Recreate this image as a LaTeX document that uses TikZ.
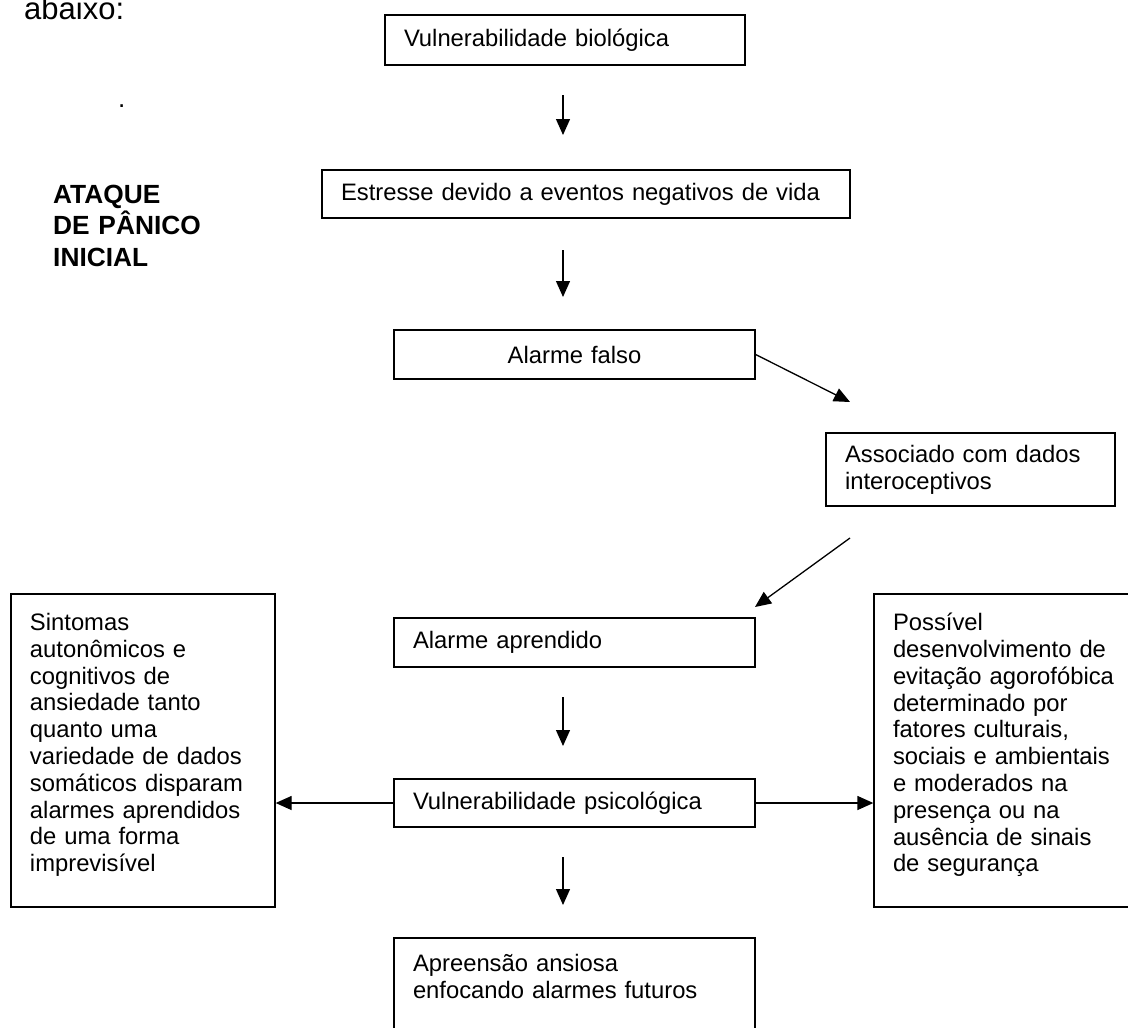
\documentclass[tikz,border=0pt]{standalone}
\usepackage{fontspec}
\setmainfont{Liberation Sans}
\usetikzlibrary{arrows.meta,calc}
\begin{document}
\begin{tikzpicture}[x=1pt,y=-1pt,
  box/.style={draw=black, line width=1.3pt, rectangle, inner xsep=19pt, inner ysep=0pt,
    font=\fontsize{23.8}{26.8}\selectfont, align=left},
  arr/.style={line width=1.3pt, -{Triangle[length=16pt,width=14pt]}},
  plain/.style={inner sep=0pt, font=\fontsize{23.8}{26.8}\selectfont}
]
\useasboundingbox (0,0) rectangle (1128,1028);

% free text
\node[plain, anchor=base west, font=\fontsize{31}{36}\selectfont] (abaixo) at (24,19) {abaixo:};
\node[plain, anchor=base west, font=\fontsize{26}{30}\selectfont] (ponto) at (118,107) {.};
\node[plain, anchor=base west, text width=200pt, align=left,
  font=\bfseries\fontsize{26.3}{31.5}\selectfont] (ataque) at (53,203) {ATAQUE\\DE PÂNICO\\INICIAL};

% boxes
\node[box, minimum width=360pt, minimum height=50pt, text width=322pt] (b1) at (565,40) {Vulnerabilidade biológica};
\node[box, minimum width=528pt, minimum height=48pt, text width=490pt] (b2) at (586,194) {Estresse devido a eventos negativos de vida};
\node[box, minimum width=361pt, minimum height=49pt, text width=323pt, align=center] (b3) at (574.5,354.5) {Alarme falso};
\node[box, minimum width=289pt, minimum height=73pt, text width=251pt] (b4) at (970.5,469.5) {Associado com dados\\interoceptivos};
\node[box, minimum width=361pt, minimum height=49pt, text width=323pt] (b5) at (574.5,642.5) {Alarme aprendido};
\node[box, minimum width=361pt, minimum height=48pt, text width=323pt] (b6) at (574.5,803) {Vulnerabilidade psicológica};
\node[box, minimum width=361pt, minimum height=131pt, text width=323pt] (b7) at (574.5,1003.5) {Apreensão ansiosa\\enfocando alarmes futuros\\\mbox{}\\\mbox{}};
\node[box, minimum width=264pt, minimum height=313pt, text width=226pt] (bl) at (143,750.5) {Sintomas\\autonômicos e\\cognitivos de\\ansiedade tanto\\quanto uma\\variedade de dados\\somáticos disparam\\alarmes aprendidos\\de uma forma\\imprevisível\rule[-16pt]{0pt}{16pt}};
\node[box, minimum width=270pt, minimum height=313pt, text width=232pt] (br) at (1009,750.5) {Possível\\desenvolvimento de\\evitação agorofóbica\\determinado por\\fatores culturais,\\sociais e ambientais\\e moderados na\\presença ou na\\ausência de sinais\\de segurança\rule[-16pt]{0pt}{16pt}};

% connector ends
\coordinate (p1) at (563,95);  \coordinate (q1) at (563,135);
\coordinate (p2) at (563,250); \coordinate (q2) at (563,297);
\coordinate (q3) at (850,402);
\coordinate (p4) at (850,538); \coordinate (q4) at (755,607);
\coordinate (p5) at (563,697); \coordinate (q5) at (563,746);
\coordinate (p6) at (563,857); \coordinate (q6) at (563,905);

% connectors
\draw[arr] (p1) -- (q1);
\draw[arr] (p2) -- (q2);
\draw[arr] (b3.east) -- (q3);
\draw[arr] (p4) -- (q4);
\draw[arr] (p5) -- (q5);
\draw[arr] (p6) -- (q6);
\draw[arr] (b6.west) -- (b6.west -| bl.east);
\draw[arr] (b6.east) -- (b6.east -| br.west);
\end{tikzpicture}
\end{document}
